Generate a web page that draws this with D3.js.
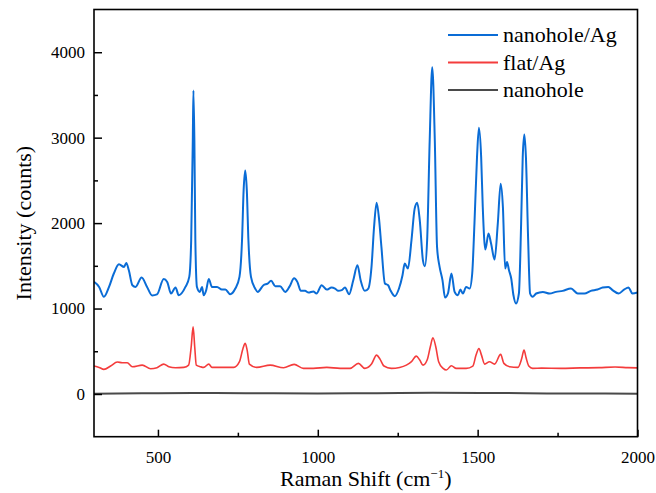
<!DOCTYPE html>
<html>
<head>
<meta charset="utf-8">
<script src="https://cdn.jsdelivr.net/npm/d3@7"></script>
<style>
  body { margin: 0; background: #fff; }
  svg text { font-family: "Liberation Serif", "Times New Roman", serif; fill: #000; }
</style>
</head>
<body>
<div id="chart"></div>
<script>
// Raman spectra: [shift (cm-1), intensity (counts)]
const nanoholeAg = [[300,1312],[316,1253],[331,1137],[347,1253],[362,1410],[378,1518],[394,1487],[401,1534],[409,1448],[420,1273],[430,1253],[449,1363],[466,1253],[482,1153],[497,1165],[518,1347],[529,1312],[541,1176],[555,1246],[565,1156],[586,1253],[598,1370],[604,1799],[609,2967],[611,3551],[614,2967],[617,1799],[622,1253],[631,1195],[638,1253],[643,1156],[651,1215],[659,1347],[669,1253],[685,1253],[700,1222],[711,1222],[726,1168],[742,1234],[755,1370],[763,1799],[768,2383],[773,2616],[778,2383],[783,1799],[791,1370],[804,1234],[812,1195],[830,1273],[843,1292],[854,1324],[867,1261],[882,1261],[898,1195],[911,1253],[926,1355],[936,1312],[947,1207],[960,1207],[971,1187],[986,1200],[996,1176],[1012,1273],[1028,1222],[1043,1246],[1054,1234],[1064,1207],[1075,1215],[1085,1246],[1098,1168],[1111,1332],[1124,1507],[1134,1332],[1147,1207],[1158,1234],[1168,1487],[1176,1954],[1184,2239],[1192,2032],[1199,1721],[1210,1293],[1220,1273],[1227,1215],[1241,1145],[1254,1234],[1265,1390],[1272,1526],[1282,1468],[1293,1799],[1303,2169],[1311,2239],[1319,2032],[1329,1560],[1335,1495],[1342,1799],[1350,2967],[1358,3823],[1366,2967],[1373,1721],[1381,1487],[1390,1332],[1398,1129],[1407,1176],[1418,1410],[1428,1195],[1438,1156],[1446,1222],[1454,1176],[1464,1253],[1475,1234],[1483,1410],[1490,1994],[1498,2772],[1504,3115],[1511,2772],[1516,2188],[1524,1690],[1534,1877],[1542,1760],[1553,1573],[1563,1994],[1572,2461],[1579,2188],[1586,1468],[1592,1545],[1598,1448],[1605,1351],[1612,1156],[1620,1059],[1629,1176],[1636,1994],[1641,2772],[1646,3037],[1651,2772],[1658,1799],[1664,1176],[1672,1137],[1683,1176],[1704,1195],[1725,1176],[1745,1195],[1766,1207],[1792,1234],[1813,1176],[1834,1176],[1854,1207],[1875,1222],[1891,1246],[1909,1253],[1922,1215],[1941,1176],[1958,1222],[1972,1246],[1984,1176],[2000,1187]];

const flatAg = [[300,327],[316,311],[331,288],[352,327],[373,374],[388,366],[404,366],[420,319],[451,338],[477,296],[497,307],[518,350],[534,319],[555,307],[581,311],[596,338],[604,553],[610,786],[615,553],[620,338],[633,319],[643,311],[659,350],[669,311],[706,311],[737,311],[755,378],[766,533],[773,592],[779,514],[786,350],[809,311],[851,338],[893,307],[926,346],[955,300],[986,300],[1028,311],[1070,300],[1101,300],[1127,358],[1147,300],[1168,350],[1184,455],[1195,405],[1207,327],[1230,300],[1256,311],[1277,338],[1293,378],[1308,443],[1319,397],[1329,338],[1342,397],[1352,553],[1360,658],[1369,553],[1378,378],[1392,300],[1402,280],[1418,331],[1433,300],[1464,300],[1485,327],[1495,455],[1504,533],[1512,455],[1522,350],[1537,378],[1553,350],[1572,463],[1582,358],[1600,319],[1626,311],[1638,417],[1645,514],[1652,417],[1660,327],[1672,300],[1700,303],[1760,300],[1820,305],[1880,308],[1930,315],[1970,308],[2000,305]];

const nanohole = [[300,4],[450,8],[610,12],[775,10],[1000,6],[1185,10],[1360,14],[1510,12],[1650,9],[1800,5],[2000,4]];

const seriesNames = ["nanohole/Ag", "flat/Ag", "nanohole"];
const seriesColors = ["#0a6cd6", "#f43c3c", "#4a4a4a"];
const xMajorTicks = [500, 1000, 1500, 2000];
const xMinorTicks = [750, 1250, 1750];
const yMajorTicks = [0, 1000, 2000, 3000, 4000];
const yMinorTicks = [500, 1500, 2500, 3500];

const width = 656, height = 493;
const plotLeft = 94, plotRight = 637.5, plotTop = 9.5, plotBottom = 436.7;
const serif = '"Liberation Serif", "Times New Roman", serif';

const x = d3.scaleLinear().domain([300, 2000]).range([plotLeft, plotRight]);
const y = d3.scaleLinear().domain([-500, 4500]).range([plotBottom, plotTop]);

const svg = d3.select("#chart").append("svg")
    .attr("width", width)
    .attr("height", height);

svg.append("rect").attr("width", width).attr("height", height).attr("fill", "#fff");

// clip so peaks stay inside the frame
svg.append("clipPath").attr("id", "plot")
  .append("rect")
    .attr("x", plotLeft).attr("y", plotTop)
    .attr("width", plotRight - plotLeft).attr("height", plotBottom - plotTop);

const line = d3.line()
    .x(d => x(d[0]))
    .y(d => y(d[1]))
    .curve(d3.curveMonotoneX);

const lines = svg.append("g").attr("clip-path", "url(#plot)");
[nanohole, flatAg, nanoholeAg].forEach((s, i) => {
    let idx = 2 - i;
    lines.append("path")
        .datum(s)
        .attr("d", line)
        .attr("fill", "none")
        .attr("stroke", seriesColors[idx])
        .attr("stroke-width", idx == 1 ? 1.6 : 2)
        .attr("stroke-linejoin", "round");
});

// axes, ticks pointing inward
const fmt = d3.format("d");
const xAxis = svg.append("g")
    .attr("transform", `translate(0,${plotBottom})`)
    .call(d3.axisBottom(x).tickValues(xMajorTicks).tickFormat(fmt).tickSizeInner(-7).tickSizeOuter(0).tickPadding(14));
xAxis.append("g").call(d3.axisBottom(x).tickValues(xMinorTicks).tickSizeInner(-4).tickSizeOuter(0).tickFormat(""));

const yAxis = svg.append("g")
    .attr("transform", `translate(${plotLeft},0)`)
    .call(d3.axisLeft(y).tickValues(yMajorTicks).tickFormat(fmt).tickSizeInner(-8).tickSizeOuter(0).tickPadding(9));
yAxis.append("g").call(d3.axisLeft(y).tickValues(yMinorTicks).tickSizeInner(-4).tickSizeOuter(0).tickFormat(""));

svg.selectAll(".domain").remove();
xAxis.attr("font-family", serif).attr("font-size", 17);
yAxis.attr("font-family", serif).attr("font-size", 17);
svg.selectAll(".tick line").attr("stroke", "#000").attr("stroke-width", 1.5);
svg.selectAll(".tick text").attr("fill", "#000");

// frame
svg.append("rect")
    .attr("x", plotLeft).attr("y", plotTop)
    .attr("width", plotRight - plotLeft).attr("height", plotBottom - plotTop)
    .attr("fill", "none")
    .attr("stroke", "#000")
    .attr("stroke-width", 1.6);

// axis titles
const xTitle = svg.append("text")
    .attr("x", (plotLeft + plotRight) / 2)
    .attr("y", 486)
    .attr("text-anchor", "middle")
    .attr("font-family", serif)
    .attr("font-size", 22);
xTitle.append("tspan").text("Raman Shift (cm");
xTitle.append("tspan").attr("dy", -8).attr("font-size", 13).text("\u22121");
xTitle.append("tspan").attr("dy", 8).text(")");

svg.append("text")
    .attr("transform", `translate(31,${(plotTop + plotBottom) / 2}) rotate(-90)`)
    .attr("text-anchor", "middle")
    .attr("font-family", serif)
    .attr("font-size", 22)
    .text("Intensity (counts)");

// legend
const legend = svg.append("g").attr("font-family", serif).attr("font-size", 22);
seriesNames.forEach((name, i) => {
    let ly = 35 + i * 27.5;
    legend.append("line")
        .attr("x1", 448).attr("x2", 498)
        .attr("y1", ly).attr("y2", ly)
        .attr("stroke", seriesColors[i])
        .attr("stroke-width", 2);
    legend.append("text")
        .attr("x", 503)
        .attr("y", ly + 7)
        .text(name);
});
</script>
</body>
</html>
